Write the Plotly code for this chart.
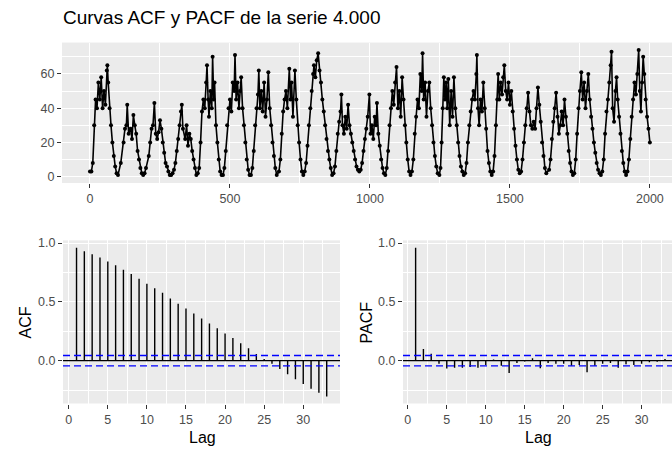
import plotly.graph_objects as go

W, H = 672, 451

title_text = "Curvas ACF y PACF de la serie 4.000"

# ---- time series ----
series_t = [
    0, 5, 10, 15, 20, 25, 30, 35, 40, 45, 50, 55, 60, 62, 65, 70, 75, 80, 85, 90, 95, 100,
    110, 120, 125, 130, 133, 138, 145, 150, 155, 160, 165, 170, 175, 180, 185, 190,
    195, 200, 210, 215, 220, 225, 230, 235, 240, 245, 250, 255, 260, 265, 270, 275, 280, 285, 290,
    295, 300, 305, 310, 315, 320, 325, 328, 332, 340, 345, 350, 355, 360, 365, 370, 375, 380, 385,
    390, 395, 400, 405, 410, 415, 418, 422, 425, 430, 435, 438, 442, 445, 450, 455, 460, 465, 470, 475,
    480, 485, 490, 495, 500, 505, 510, 515, 518, 522, 527, 532, 536, 540, 545, 550, 555, 560, 565, 570, 575,
    580, 585, 590, 595, 600, 603, 607, 612, 617, 622, 627, 632, 637, 642, 647, 652, 657, 662, 667,
    675, 680, 685, 690, 695, 700, 705, 712, 716, 720, 725, 732, 737, 742, 747, 752, 757, 762,
    767, 772, 777, 782, 787, 792, 797, 800, 805, 810, 815, 820, 825, 830, 835, 840, 845, 850, 855, 860, 865,
    870, 875, 880, 885, 890, 895, 898, 902, 907, 912, 917, 922, 927, 932, 937, 942, 947, 952, 957, 962,
    967, 972, 977, 982, 987, 992, 998, 1002, 1007, 1012, 1017, 1022, 1025, 1030, 1035, 1040, 1045, 1050, 1055,
    1060, 1065, 1070, 1075, 1080, 1085, 1090, 1095, 1100, 1105, 1110, 1115, 1120, 1125, 1130, 1135, 1140, 1145,
    1150, 1155, 1160, 1165, 1170, 1175, 1180, 1185, 1188, 1192, 1197, 1202, 1207, 1212, 1217, 1222, 1227, 1232, 1237, 1242, 1248,
    1252, 1256, 1260, 1264, 1268, 1272, 1276, 1280, 1285, 1290, 1295, 1300, 1305, 1310, 1315, 1320, 1325, 1330, 1335,
    1340, 1345, 1350, 1355, 1360, 1365, 1370, 1375, 1380, 1382, 1386, 1390, 1395, 1400, 1405, 1410, 1415, 1420, 1425, 1430, 1435,
    1440, 1445, 1450, 1455, 1458, 1462, 1467, 1472, 1476, 1480, 1485, 1490, 1495, 1500, 1505, 1510, 1515, 1520, 1525, 1530, 1535,
    1540, 1545, 1550, 1555, 1560, 1565, 1570, 1575, 1580, 1585, 1590, 1595, 1600, 1605, 1610, 1615, 1620, 1625, 1630,
    1640, 1645, 1650, 1655, 1660, 1665, 1670, 1675, 1680, 1685, 1690, 1695, 1700, 1705, 1710, 1715, 1720, 1725,
    1730, 1735, 1740, 1745, 1750, 1755, 1760, 1765, 1770, 1775, 1780, 1785, 1790, 1795, 1800, 1805, 1810, 1815, 1820, 1825,
    1830, 1835, 1840, 1845, 1850, 1855, 1860, 1863, 1867, 1872, 1877, 1881, 1885, 1890, 1895, 1900, 1905, 1910, 1915,
    1920, 1925, 1930, 1935, 1940, 1945, 1950, 1955, 1960, 1964, 1968, 1972, 1976, 1980, 1985, 1990, 1995, 2000,
]
series_v = [
    3, 3, 8, 30, 45, 40, 55, 45, 58, 40, 50, 42, 62, 65, 55, 40, 30, 20, 12, 6, 2, 1,
    8, 20, 28, 30, 42, 25, 28, 22, 36, 30, 25, 15, 10, 5, 2, 1,
    2, 5, 12, 20, 28, 30, 43, 25, 22, 26, 33, 28, 20, 14, 8, 6, 3, 1, 1,
    2, 4, 8, 15, 22, 30, 38, 42, 28, 22, 30, 18, 25, 22, 15, 10, 5, 1, 2,
    5, 20, 38, 45, 40, 55, 65, 45, 35, 50, 40, 70, 45, 55, 30, 20, 10, 3, 1, 1,
    5, 15, 30, 40, 45, 38, 55, 50, 71, 45, 55, 40, 50, 58, 40, 30, 20, 10, 4, 1, 1,
    5, 15, 30, 40, 48, 62, 40, 50, 38, 55, 35, 45, 61, 40, 30, 20, 12, 5, 1,
    3, 10, 25, 38, 45, 50, 40, 63, 45, 55, 35, 62, 45, 30, 20, 10, 3, 1,
    3, 8, 18, 30, 40, 50, 60, 65, 58, 68, 72, 62, 55, 45, 38, 30, 22, 15, 10, 5, 1,
    2, 6, 15, 25, 32, 38, 48, 30, 25, 35, 28, 42, 30, 25, 20, 15, 10, 6, 4, 3,
    4, 8, 15, 22, 28, 35, 48, 25, 30, 22, 35, 30, 43, 25, 18, 10, 5, 2, 1,
    5, 15, 30, 40, 50, 42, 55, 64, 40, 50, 35, 58, 45, 30, 20, 10, 3, 1,
    3, 10, 25, 35, 45, 40, 60, 50, 72, 45, 55, 35, 50, 55, 40, 30, 20, 12, 6, 2, 1,
    5, 20, 40, 58, 45, 55, 40, 57, 30, 50, 35, 58, 40, 30, 20, 12, 6, 3, 1,
    2, 8, 20, 30, 38, 45, 50, 45, 60, 71, 40, 30, 45, 38, 55, 40, 28, 15, 8, 3, 1,
    3, 12, 30, 45, 60, 45, 55, 48, 58, 65, 50, 45, 55, 42, 50, 38, 28, 18, 10, 4, 2,
    3, 10, 20, 30, 40, 49, 38, 30, 28, 32, 28, 40, 52, 42, 32, 20, 12, 5, 2,
    4, 10, 22, 32, 40, 49, 35, 25, 30, 38, 30, 45, 35, 25, 15, 8, 3, 1,
    2, 10, 25, 40, 50, 61, 45, 55, 40, 50, 60, 45, 35, 28, 20, 14, 8, 4, 2, 1,
    3, 10, 25, 38, 45, 55, 65, 73, 40, 32, 50, 58, 45, 35, 25, 15, 8, 3, 1,
    3, 10, 22, 35, 45, 55, 48, 60, 74, 50, 38, 55, 70, 60, 45, 35, 28, 20,
]

# ---- ACF / PACF ----
lags = list(range(1, 34))
acf_vals = [0.961, 0.930, 0.905, 0.877, 0.843, 0.812, 0.773, 0.737, 0.697, 0.655,
            0.616, 0.577, 0.529, 0.485, 0.443, 0.401, 0.359, 0.317, 0.275, 0.232,
            0.193, 0.148, 0.106, 0.056, 0.014, -0.025, -0.070, -0.115, -0.157, -0.199,
            -0.238, -0.272, -0.305]
pacf_vals = [0.960, 0.100, 0.059, -0.025, -0.067, -0.059, -0.059, -0.053, -0.059, -0.036,
             0.010, -0.042, -0.104, -0.020, -0.006, 0.020, -0.064, -0.020, -0.025, -0.025,
             -0.042, -0.036, -0.098, -0.042, -0.025, -0.020, -0.059, -0.030, -0.036, -0.025,
             -0.014, -0.008, 0.014]
conf_limit = 0.044

top_xticks = [0, 500, 1000, 1500, 2000]
top_yticks = [0, 20, 40, 60]
lag_ticks = [0, 5, 10, 15, 20, 25, 30]
cf_yticks = [0.0, 0.5, 1.0]
cf_yticklabels = ["0.0", "0.5", "1.0"]

# ---- layout helpers (pixel -> paper) ----
def px(x):
    return x / W

def py(y):
    return 1 - y / H

FONT = "Liberation Sans, Arial, Helvetica, sans-serif"
PANEL = "#EBEBEB"
TICKC = "#333333"
LABC = "#4D4D4D"
TICK_SIZE = 12.5
AXT_SIZE = 16

fig = go.Figure()

# top series
fig.add_trace(go.Scatter(
    x=series_t, y=series_v, mode="lines+markers",
    line=dict(color="black", width=1.6),
    marker=dict(color="black", size=4),
    xaxis="x", yaxis="y", showlegend=False, hoverinfo="skip"))

def stems(vals):
    xs, ys = [], []
    for k, v in zip(lags, vals):
        xs += [k, k, None]
        ys += [0, v, None]
    return xs, ys

ax, ay = stems(acf_vals)
fig.add_trace(go.Scatter(x=ax, y=ay, mode="lines", line=dict(color="black", width=1.4),
                         xaxis="x2", yaxis="y2", showlegend=False, hoverinfo="skip"))
bx, by = stems(pacf_vals)
fig.add_trace(go.Scatter(x=bx, y=by, mode="lines", line=dict(color="black", width=1.4),
                         xaxis="x3", yaxis="y3", showlegend=False, hoverinfo="skip"))

shapes = []
for xr, yr in (("x2", "y2"), ("x3", "y3")):
    shapes.append(dict(type="line", xref=f"{xr} domain", yref=yr, x0=0, x1=1, y0=0, y1=0,
                       line=dict(color="black", width=1.2)))
    for s in (1, -1):
        shapes.append(dict(type="line", xref=f"{xr} domain", yref=yr, x0=0, x1=1,
                           y0=s * conf_limit, y1=s * conf_limit,
                           line=dict(color="#0000FF", width=1.4, dash="7px,4px")))

common_axis = dict(
    showgrid=True, gridcolor="white", gridwidth=1.1, zeroline=False,
    ticks="outside", ticklen=4, tickwidth=1, tickcolor=TICKC,
    tickfont=dict(family=FONT, size=TICK_SIZE, color=LABC),
    showline=False, fixedrange=True,
)

fig.update_layout(
    width=W, height=H, margin=dict(l=0, r=0, t=0, b=0),
    paper_bgcolor="white", plot_bgcolor=PANEL,
    font=dict(family=FONT),
    shapes=shapes,
    xaxis=dict(common_axis, domain=[px(62), 1], range=[-100, 2079], anchor="y",
               tickvals=top_xticks,
               minor=dict(dtick=250, tick0=0, showgrid=True, gridcolor="white", gridwidth=0.55, ticks="")),
    yaxis=dict(common_axis, domain=[py(181), py(39)], range=[-3.7, 78.3], anchor="x",
               tickvals=top_yticks,
               minor=dict(dtick=10, tick0=0, showgrid=True, gridcolor="white", gridwidth=0.55, ticks="")),
    xaxis2=dict(common_axis, domain=[px(63), px(340)], range=[-0.73, 34.7], anchor="y2",
                tickvals=lag_ticks,
                minor=dict(dtick=2.5, tick0=0, showgrid=True, gridcolor="white", gridwidth=0.55, ticks="")),
    yaxis2=dict(common_axis, domain=[py(404), py(239)], range=[-0.364, 1.023], anchor="x2",
                tickvals=cf_yticks, ticktext=cf_yticklabels,
                minor=dict(dtick=0.25, tick0=0, showgrid=True, gridcolor="white", gridwidth=0.55, ticks="")),
    xaxis3=dict(common_axis, domain=[px(403), 1], range=[-0.62, 33.9], anchor="y3",
                tickvals=lag_ticks,
                minor=dict(dtick=2.5, tick0=0, showgrid=True, gridcolor="white", gridwidth=0.55, ticks="")),
    yaxis3=dict(common_axis, domain=[py(404), py(239)], range=[-0.364, 1.023], anchor="x3",
                tickvals=cf_yticks, ticktext=cf_yticklabels,
                minor=dict(dtick=0.25, tick0=0, showgrid=True, gridcolor="white", gridwidth=0.55, ticks="")),
)

annotations = [
    dict(text=title_text, x=px(61), y=py(14), xref="paper", yref="paper",
         xanchor="left", yanchor="middle", showarrow=False,
         font=dict(family=FONT, size=19, color="black")),
    dict(text="Lag", x=px(202), y=py(438), xref="paper", yref="paper",
         xanchor="center", yanchor="middle", showarrow=False,
         font=dict(family=FONT, size=AXT_SIZE, color="black")),
    dict(text="Lag", x=px(538), y=py(438), xref="paper", yref="paper",
         xanchor="center", yanchor="middle", showarrow=False,
         font=dict(family=FONT, size=AXT_SIZE, color="black")),
    dict(text="ACF", x=px(25), y=py(322), xref="paper", yref="paper", textangle=-90,
         xanchor="center", yanchor="middle", showarrow=False,
         font=dict(family=FONT, size=AXT_SIZE, color="black")),
    dict(text="PACF", x=px(366), y=py(322), xref="paper", yref="paper", textangle=-90,
         xanchor="center", yanchor="middle", showarrow=False,
         font=dict(family=FONT, size=AXT_SIZE, color="black")),
]
fig.update_layout(annotations=annotations)

fig.write_html("out.html", config={"displayModeBar": False})
